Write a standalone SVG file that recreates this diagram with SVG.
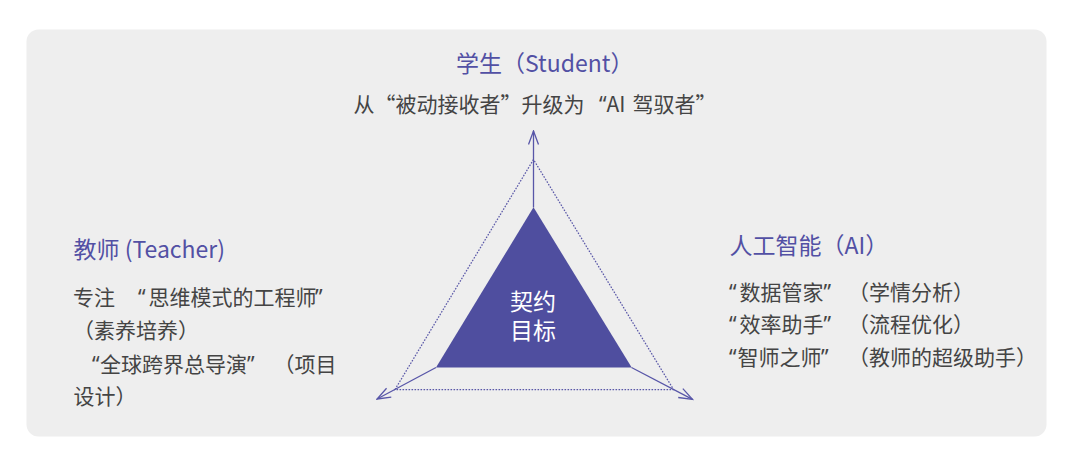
<svg xmlns="http://www.w3.org/2000/svg" width="1076" height="458" viewBox="0 0 1076 458">
<style>
.hd{font-family:"Noto Sans CJK SC","Noto Sans",sans-serif;font-size:23px;fill:#5250a4}
.bd{font-family:"Noto Sans CJK SC","Noto Sans",sans-serif;font-size:21px;fill:#444444}
.lq{font-family:"Noto Sans",sans-serif}
.ctr{font-family:"Noto Sans CJK SC","Noto Sans",sans-serif;font-size:23px;fill:#ffffff;text-anchor:middle}
.arr{stroke:#5856a8;stroke-width:1.3;fill:none}
</style>
<defs>
<marker id="vh" viewBox="0 0 16 12" refX="14.5" refY="6" markerWidth="16" markerHeight="12" markerUnits="userSpaceOnUse" orient="auto">
<path d="M1,1 L14.5,6 L1,11" fill="none" stroke="#5856a8" stroke-width="1.3"/>
</marker>
</defs>
<rect x="26.5" y="29.5" width="1020" height="407" rx="12" fill="#eeeeee"/>
<g id="frame">
<polygon points="533.5,159.5 395,389.5 673.5,389.5" fill="none" stroke="#5a58a8" stroke-width="1.25" stroke-dasharray="1.6 1.4"/>
</g>
<g id="connectors">
<line class="arr" x1="533.5" y1="207.5" x2="533.5" y2="131" stroke="#6a68b2" stroke-width="1.6" marker-end="url(#vh)"/>
<line class="arr" x1="436" y1="367.5" x2="377" y2="399" marker-end="url(#vh)"/>
<line class="arr" x1="631.5" y1="367.5" x2="692.5" y2="399.3" marker-end="url(#vh)"/>
</g>
<g id="goal">
<polygon points="533.5,207.3 436,367.5 631.7,367.5" fill="#4f4e9f"/>
<text class="ctr"><tspan x="533" y="309.5">契约</tspan><tspan x="533" y="338.5">目标</tspan></text>
</g>
<g id="student">
<text class="hd" x="456" y="71.5">学生（Student）</text>
<text class="bd" y="112"><tspan x="353.5">从“被动接收者”升级为</tspan><tspan x="599" class="lq">“</tspan><tspan>AI</tspan><tspan x="632.5">驾驭者”</tspan></text>
</g>
<g id="teacher">
<text class="hd" x="73.5" y="258">教师 (Teacher)</text>
<text class="bd" y="304.5"><tspan x="73">专注</tspan><tspan x="138" class="lq">“</tspan><tspan x="148.5">思维模式的工程师</tspan><tspan x="315" class="lq">”</tspan></text>
<text class="bd" x="73" y="338">（素养培养）</text>
<text class="bd" y="372"><tspan x="92" class="lq">“</tspan><tspan x="100">全球跨界总导演</tspan><tspan x="247" class="lq">”</tspan><tspan x="273.5">（项目</tspan></text>
<text class="bd" x="73.5" y="404">设计）</text>
</g>
<g id="ai">
<text class="hd" x="729.5" y="254">人工智能（AI）</text>
<text class="bd" y="299.5"><tspan x="729" class="lq">“</tspan><tspan x="739.5">数据管家</tspan><tspan x="823.5" class="lq">”</tspan><tspan x="848">（学情分析）</tspan></text>
<text class="bd" y="332"><tspan x="729" class="lq">“</tspan><tspan x="739.5">效率助手</tspan><tspan x="823.5" class="lq">”</tspan><tspan x="848">（流程优化）</tspan></text>
<text class="bd" y="364.5"><tspan x="729" class="lq">“</tspan><tspan x="737.5">智师之师</tspan><tspan x="821" class="lq">”</tspan><tspan x="848">（教师的超级助手）</tspan></text>
</g>
</svg>
